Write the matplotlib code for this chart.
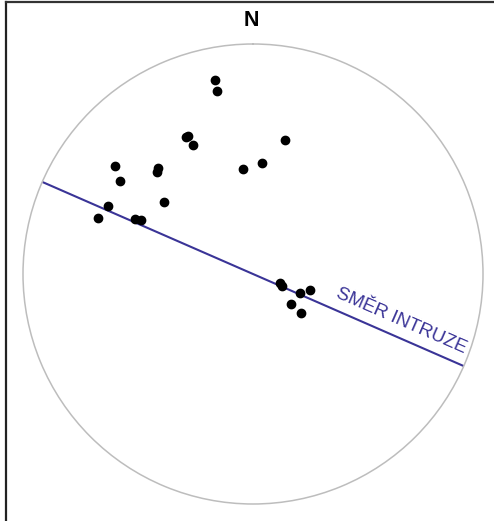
import numpy as np
import matplotlib
matplotlib.use("Agg")
from matplotlib import pyplot as plt
from matplotlib.lines import Line2D

# poles: azimuth (deg, clockwise from N) and plunge (deg)
azimuth = [349, 349, 334, 335, 335, 13.5, 4.5, 354.6, 308, 305, 318, 317,
           309, 295, 290, 295, 295.5, 109.5, 112, 106, 112, 128, 129.5]
plunge = [15, 20, 34, 34, 38, 40, 50, 52, 25, 30, 38, 39,
          49, 31, 29, 43, 45, 80, 79, 69, 72, 73, 68]

# direction of intrusion (trend of the line across the net)
smer = 293.6
label = "SMĚR INTRUZE"

blue = "#3a3497"


def equal_area(pl):
    # Schmidt net radius, 0 at centre, 1 at primitive
    return np.sqrt(2) * np.sin(np.radians(90 - np.asarray(pl)) / 2)


fig = plt.figure(figsize=(4.94, 5.21), dpi=100)
ax = fig.add_axes([23 / 494, 17 / 521, 460 / 494, 460 / 521], projection="polar")
ax.set_theta_zero_location("N")
ax.set_theta_direction(-1)
ax.set_ylim(0, 1)
ax.set_xticks([])
ax.set_yticks([])
ax.grid(False)
ax.spines["polar"].set_color("#bdbdbd")
ax.spines["polar"].set_linewidth(1.1)

# intrusion line through the centre
t1 = np.radians(smer)
t2 = np.radians(smer - 180)
ax.plot([t1, t1, t2, t2], [1, 0, 0, 1], color=blue, lw=1.5, zorder=2)

ax.plot(np.radians(azimuth), equal_area(plunge), "o", color="black",
        ms=6, mec="black", zorder=3)

ax.text(np.radians(smer - 180 - 6.1), 0.675, label, color=blue,
        family="Liberation Sans", fontsize=13.5, rotation=-(smer - 270),
        rotation_mode="anchor", ha="center", va="center")

fig.text(251 / 494, 1 - 21 / 521, "N", family="Liberation Sans",
         fontweight="bold", fontsize=15.5, ha="center", va="center")

# frame lines (top and left)
fig.add_artist(Line2D([6 / 494, 6 / 494], [0, 1 - 2 / 521],
                      transform=fig.transFigure, color="#222222", lw=1.6))
fig.add_artist(Line2D([6 / 494, 1], [1 - 2 / 521, 1 - 2 / 521],
                      transform=fig.transFigure, color="#333333", lw=1.6))

fig.savefig("out.png", dpi=100)
